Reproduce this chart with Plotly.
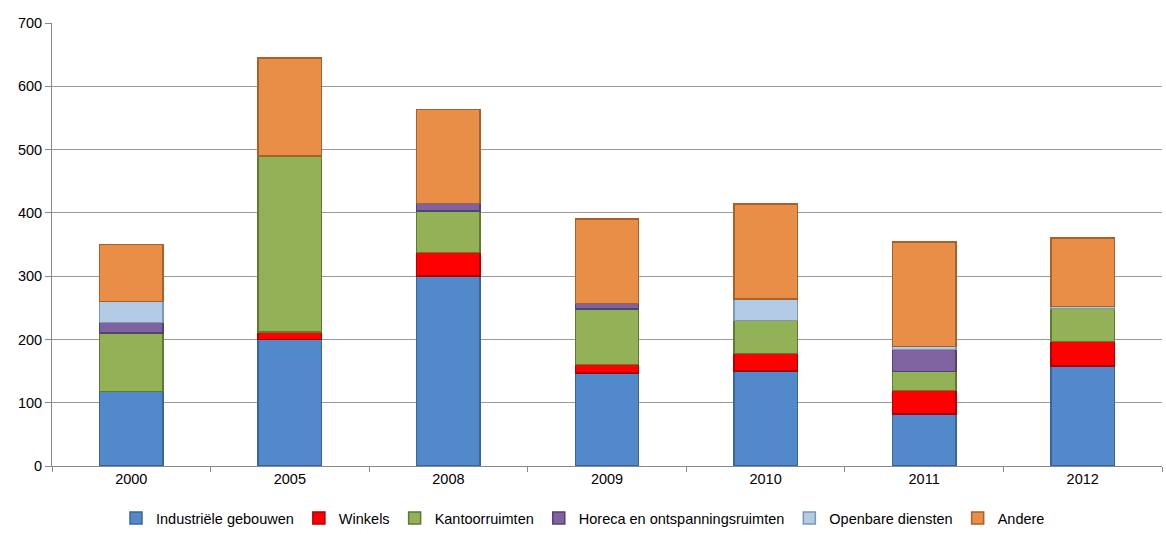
import plotly.graph_objects as go

years = ["2000", "2005", "2008", "2009", "2010", "2011", "2012"]
industriele = [118, 200, 300, 147, 150, 82, 158]
winkels = [0, 12, 37, 13, 28, 37, 39]
kantoor = [92, 278, 66, 88, 52, 30, 52]
horeca = [17, 0, 12, 9, 0, 35, 0]
openbare = [33, 0, 0, 0, 34, 5, 3]
andere = [90, 155, 148, 133, 150, 165, 108]

series = [
    ("Industriële gebouwen", industriele, "#5289CA", "#3A6597"),
    ("Winkels", winkels, "#FF0000", "#B00000"),
    ("Kantoorruimten", kantoor, "#93B157", "#5F7A32"),
    ("Horeca en ontspanningsruimten", horeca, "#7E63A0", "#55416F"),
    ("Openbare diensten", openbare, "#B4CBE6", "#7F96B4"),
    ("Andere", andere, "#E98E46", "#A8612A"),
]

fig = go.Figure()
for name, vals, col, edge in series:
    fig.add_trace(go.Bar(
        x=years, y=vals, name=name,
        marker=dict(color=col, line=dict(color=edge, width=1.5)),
    ))

fig.update_layout(
    barmode="stack",
    bargap=0.6,
    width=1166, height=534,
    margin=dict(l=52, r=4, t=23, b=68, autoexpand=False),
    paper_bgcolor="white",
    plot_bgcolor="white",
    font=dict(family="Liberation Sans, Arial", size=14, color="#000000"),
    showlegend=True,
    legend=dict(
        orientation="h", xref="container", x=0.5, xanchor="center",
        yref="container", y=0.0, yanchor="bottom",
        font=dict(size=14.5), itemwidth=30, traceorder="normal",
        tracegroupgap=0,
    ),
    xaxis=dict(
        showline=True, linecolor="#888888", linewidth=1,
        ticks="outside", tickson="boundaries", ticklen=5, tickcolor="#888888",
        tickfont=dict(size=14.5),
    ),
    yaxis=dict(
        range=[0, 700], dtick=100,
        showgrid=True, gridcolor="#9A9A9A", gridwidth=1,
        showline=True, linecolor="#888888", linewidth=1,
        ticks="outside", ticklen=6, tickcolor="#888888",
        tickfont=dict(size=14.5), zeroline=False,
    ),
)

fig.write_html("out.html")
